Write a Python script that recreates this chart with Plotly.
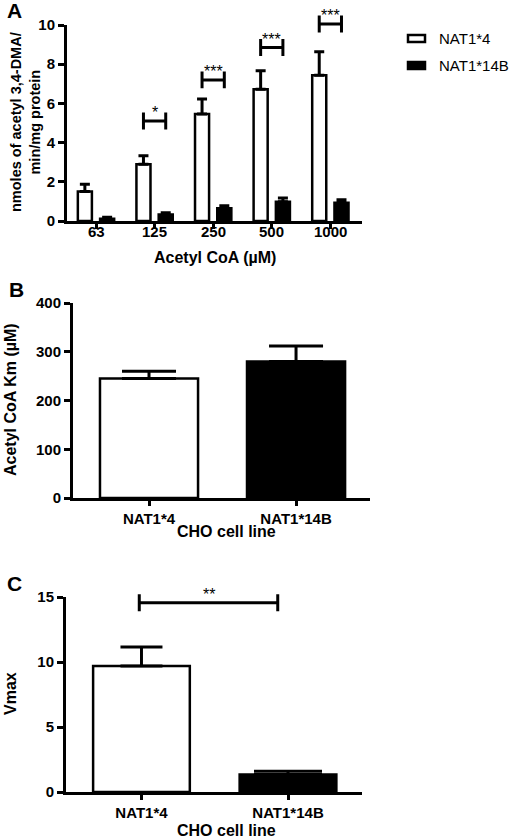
import plotly.graph_objects as go

W, H = 512, 839

# panel A: acetylation rate vs acetyl CoA
coa_labels = ["63", "125", "250", "500", "1000"]
nat4_rate = [1.50, 2.89, 5.46, 6.72, 7.43]
nat4_rate_err = [0.37, 0.44, 0.76, 0.95, 1.21]
nat14b_rate = [0.12, 0.33, 0.65, 0.98, 0.93]
nat14b_rate_err = [0.07, 0.09, 0.13, 0.19, 0.16]
sig_groups = [1, 2, 3, 4]
sig_level = [5.1, 7.2, 8.85, 10.05]
sig_stars = ["*", "***", "***", "***"]

# panels B and C: kinetic constants
cell_lines = ["NAT1*4", "NAT1*14B"]
km = [245, 280]
km_err = [15, 32]
vmax = [9.7, 1.35]
vmax_err = [1.45, 0.25]
vmax_sig_x = [-0.015, 0.93]
vmax_sig_y = 14.56
vmax_stars = "**"

FONT = "Liberation Sans"


def px(x):
    return x / W


def py(y):
    return 1 - y / H


def bracket(x0, x1, y, h):
    return [x0, x0, None, x0, x1, None, x1, x1], [y - h, y + h, None, y, y, None, y - h, y + h]


fig = go.Figure()

# ---- A
bw = 0.24
fig.add_trace(go.Bar(
    x=list(range(5)), y=nat4_rate, width=bw, offset=-0.31, name="NAT1*4",
    marker=dict(color="white", line=dict(color="black", width=2.5)),
    error_y=dict(type="data", symmetric=False, array=nat4_rate_err, arrayminus=[0] * 5,
                 color="black", thickness=3, width=5),
    xaxis="x", yaxis="y"))
fig.add_trace(go.Bar(
    x=list(range(5)), y=nat14b_rate, width=bw, offset=0.07, name="NAT1*14B",
    marker=dict(color="black", line=dict(color="black", width=2.5)),
    error_y=dict(type="data", symmetric=False, array=nat14b_rate_err, arrayminus=[0] * 5,
                 color="black", thickness=3, width=5),
    xaxis="x", yaxis="y"))

bx, by = [], []
for g, lvl in zip(sig_groups, sig_level):
    xs, ys = bracket(g - 0.19, g + 0.19, lvl, 0.43)
    bx += xs + [None]
    by += ys + [None]
fig.add_trace(go.Scatter(x=bx, y=by, mode="lines", line=dict(color="black", width=3),
                         hoverinfo="skip", xaxis="x", yaxis="y"))

# ---- B
for i, (col, ew) in enumerate(zip(["white", "black"], [27, 27])):
    fig.add_trace(go.Bar(
        x=[i], y=[km[i]], width=0.667,
        marker=dict(color=col, line=dict(color="black", width=2.5)),
        error_y=dict(type="data", symmetric=False, array=[km_err[i]], arrayminus=[0],
                     color="black", thickness=3, width=ew),
        xaxis="x2", yaxis="y2"))

# ---- C
for i, (col, ew) in enumerate(zip(["white", "black"], [21, 34])):
    fig.add_trace(go.Bar(
        x=[i], y=[vmax[i]], width=0.66,
        marker=dict(color=col, line=dict(color="black", width=2.5)),
        error_y=dict(type="data", symmetric=False, array=[vmax_err[i]], arrayminus=[0],
                     color="black", thickness=3, width=ew),
        xaxis="x3", yaxis="y3"))
xs, ys = bracket(vmax_sig_x[0], vmax_sig_x[1], vmax_sig_y, 0.65)
fig.add_trace(go.Scatter(x=xs, y=ys, mode="lines", line=dict(color="black", width=3),
                         hoverinfo="skip", xaxis="x3", yaxis="y3"))

tickfont = dict(family=FONT, size=15, color="black", weight="bold")
common_x = dict(showline=True, linecolor="black", linewidth=3, ticks="outside", ticklen=5,
                tickwidth=3, tickcolor="black", tickfont=tickfont, showgrid=False,
                zeroline=False, fixedrange=True, automargin=False)
common_y = dict(ticks="outside", ticklen=6, tickwidth=3, tickcolor="black", tickfont=tickfont,
                showgrid=False, zeroline=False, fixedrange=True, automargin=False)

# panel geometry (pixels)
a_x = (67, 362)
a_y0, a_unit, a_top = 221, 19.6, 11.2
b_x = (73, 370)
b_y = (498, 303)
c_x = (66, 362)
c_y0, c_unit, c_top = 792, 13.0, 15.6

fig.update_layout(
    template="none",
    width=W, height=H, margin=dict(l=0, r=0, t=0, b=0, autoexpand=False),
    plot_bgcolor="white", paper_bgcolor="white", barmode="overlay", showlegend=False,
    font=dict(family=FONT, color="black"),
    # A's tick labels sit tight under the axis, so they are placed as annotations below
    xaxis=dict(common_x, domain=[px(a_x[0]), px(a_x[1])], range=[-0.495, 4.54],
               tickvals=list(range(5)), showticklabels=False, anchor="y"),
    yaxis=dict(common_y, domain=[py(a_y0), py(a_y0 - a_top * a_unit)], range=[0, a_top],
               tickvals=[0, 2, 4, 6, 8, 10], showline=True, linecolor="rgba(0,0,0,0)",
               linewidth=3, anchor="x"),
    xaxis2=dict(common_x, domain=[px(b_x[0]), px(b_x[1])], range=[-0.517, 1.503],
                tickvals=[0, 1], ticktext=cell_lines, anchor="y2"),
    yaxis2=dict(common_y, domain=[py(b_y[0]), py(b_y[1])], range=[0, 400],
                tickvals=[0, 100, 200, 300, 400], showline=True, linecolor="black",
                linewidth=3, anchor="x2"),
    xaxis3=dict(common_x, domain=[px(c_x[0]), px(c_x[1])], range=[-0.515, 1.505],
                tickvals=[0, 1], ticktext=cell_lines, anchor="y3"),
    yaxis3=dict(common_y, domain=[py(c_y0), py(c_y0 - c_top * c_unit)], range=[0, c_top],
                tickvals=[0, 5, 10, 15], showline=True, linecolor="rgba(0,0,0,0)",
                linewidth=3, anchor="x3"),
)

# y axis lines that stop at the top tick (A and C)
fig.add_shape(type="line", xref="paper", yref="y", x0=px(a_x[0] - 1.5), x1=px(a_x[0] - 1.5),
              y0=0, y1=10, line=dict(color="black", width=3))
fig.add_shape(type="line", xref="paper", yref="y3", x0=px(c_x[0] - 1.5), x1=px(c_x[0] - 1.5),
              y0=0, y1=15, line=dict(color="black", width=3))

# legend (drawn by hand so it can sit at the right edge)
legend_rows = [("NAT1*4", "white", 38.5), ("NAT1*14B", "black", 65.5)]
ann = []
for name, col, yc in legend_rows:
    fig.add_shape(type="rect", xref="paper", yref="paper",
                  x0=px(408), x1=px(425), y0=py(yc - 3.5), y1=py(yc + 3.5),
                  fillcolor=col, line=dict(color="black", width=2.5))
    ann.append(dict(x=px(437), y=py(yc + 0.5), xref="paper", yref="paper", text=name,
                    showarrow=False, xanchor="left", yanchor="middle",
                    font=dict(family=FONT, size=15, color="black")))

for i, lab in enumerate(coa_labels):
    ann.append(dict(x=i, y=py(231), xref="x", yref="paper", text=lab, showarrow=False,
                    xanchor="center", yanchor="middle", font=tickfont))

for g, lvl, s in zip(sig_groups, sig_level, sig_stars):
    ann.append(dict(x=g, y=lvl, xref="x", yref="y", text=s, showarrow=False,
                    yanchor="bottom", yshift=-2, font=dict(size=16)))
ann.append(dict(x=sum(vmax_sig_x) / 2, y=vmax_sig_y, xref="x3", yref="y3", text=vmax_stars,
                showarrow=False, yanchor="bottom", yshift=-2, font=dict(size=16)))

bold = dict(family=FONT, size=16, color="black", weight="bold")
letter = dict(family=FONT, size=21, color="black", weight="bold")
labels = [
    dict(x=px(14), y=py(11), text="A", font=letter),
    dict(x=px(16), y=py(290), text="B", font=letter),
    dict(x=px(14), y=py(583), text="C", font=letter),
    dict(x=px(25), y=py(122), text="nmoles of acetyl 3,4-DMA/<br>min/mg protein",
         textangle=-90, font=dict(bold, size=14.5)),
    dict(x=px(215), y=py(257), text="Acetyl CoA (µM)", font=bold),
    dict(x=px(10), y=py(400), text="Acetyl CoA Km (µM)", textangle=-90, font=bold),
    dict(x=px(226), y=py(531), text="CHO cell line", font=bold),
    dict(x=px(10), y=py(694), text="Vmax", textangle=-90, font=bold),
    dict(x=px(226), y=py(830), text="CHO cell line", font=bold),
]
for a in labels:
    a.update(xref="paper", yref="paper", showarrow=False, xanchor="center", yanchor="middle")
fig.update_layout(annotations=ann + labels)

# the page body keeps the browser's default 8px margin otherwise
fig.write_html("out.html", config={"displayModeBar": False},
               post_script="document.body.style.margin = '0';")
